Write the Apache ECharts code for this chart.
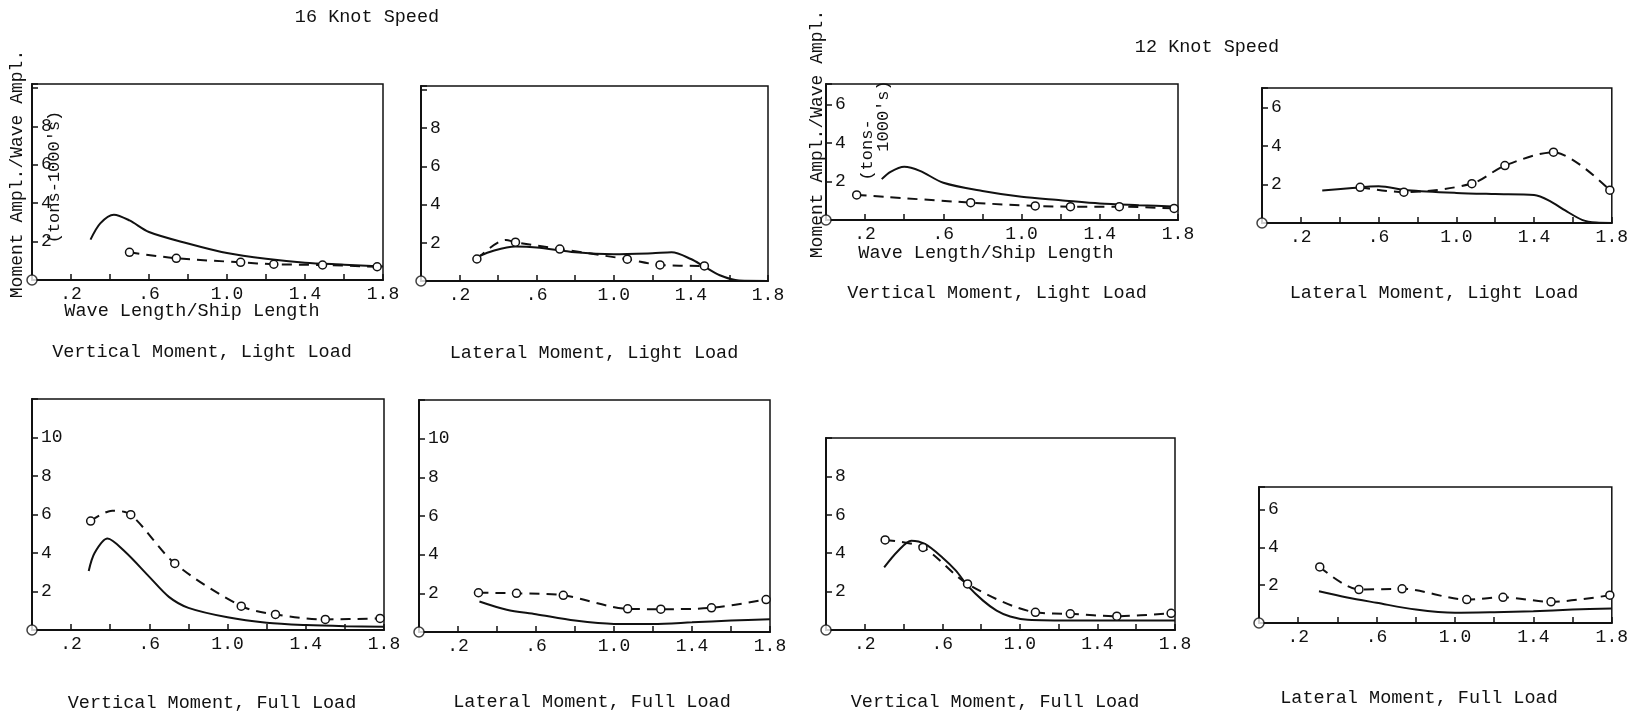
<!DOCTYPE html>
<html><head><meta charset="utf-8">
<script src="https://cdn.jsdelivr.net/npm/echarts@6/dist/echarts.min.js"></script>
<style>html,body{margin:0;padding:0;background:#fff}#c{width:1631px;height:714px}</style>
</head><body><div id="c"></div>
<script>
// ---- tick labels ----
const xTickValues = [0.2, 0.6, 1.0, 1.4, 1.8];
const xTickLabels = ['.2', '.6', '1.0', '1.4', '1.8'];
const origin = [[0, 0]];

// ---- 16 knot speed ----
const v16LightSolid = [[0.30,2.1],[0.35,2.95],[0.42,3.4],[0.50,3.1],[0.60,2.5],[0.80,1.9],[1.00,1.4],[1.20,1.1],[1.40,0.9],[1.60,0.8],[1.80,0.7]];
const v16LightCircles = [[0.50,1.44],[0.74,1.13],[1.07,0.92],[1.24,0.82],[1.49,0.78],[1.77,0.69]];
const v16LightDashExtra = [];

const l16LightSolid = [[0.29,1.26],[0.38,1.6],[0.49,1.8],[0.60,1.75],[0.80,1.5],[1.00,1.4],[1.20,1.45],[1.30,1.5],[1.40,1.15],[1.47,0.75],[1.55,0.3],[1.65,0.02],[1.80,0.0]];
const l16LightCircles = [[0.29,1.15],[0.49,2.03],[0.72,1.67],[1.07,1.14],[1.24,0.84],[1.47,0.79]];
const l16LightDashExtra = [[0.44,2.15]];

const v16FullSolid = [[0.29,3.07],[0.32,4.0],[0.386,4.75],[0.476,4.06],[0.60,2.76],[0.70,1.72],[0.80,1.15],[1.00,0.66],[1.20,0.38],[1.40,0.26],[1.60,0.2],[1.80,0.17]];
const v16FullCircles = [[0.30,5.66],[0.505,5.99],[0.73,3.46],[1.07,1.24],[1.245,0.81],[1.50,0.55],[1.78,0.6]];
const v16FullDashExtra = [[0.41,6.2]];

const l16FullSolid = [[0.31,1.58],[0.45,1.15],[0.60,0.92],[0.80,0.59],[1.00,0.42],[1.20,0.42],[1.40,0.5],[1.60,0.59],[1.80,0.66]];
const l16FullCircles = [[0.305,2.03],[0.50,2.0],[0.74,1.9],[1.07,1.2],[1.24,1.18],[1.50,1.25],[1.78,1.68]];
const l16FullDashExtra = [];

// ---- 12 knot speed ----
const v12LightSolid = [[0.285,2.12],[0.33,2.5],[0.40,2.76],[0.48,2.55],[0.60,1.93],[0.80,1.5],[1.00,1.2],[1.20,1.03],[1.40,0.86],[1.60,0.77],[1.80,0.69]];
const v12LightCircles = [[0.157,1.3],[0.74,0.9],[1.07,0.73],[1.25,0.69],[1.50,0.69],[1.78,0.6]];
const v12LightDashExtra = [];

const l12LightSolid = [[0.31,1.68],[0.45,1.8],[0.60,1.9],[0.75,1.7],[1.00,1.56],[1.20,1.5],[1.40,1.45],[1.48,1.15],[1.56,0.65],[1.65,0.15],[1.72,0.02],[1.80,0.0]];
const l12LightCircles = [[0.505,1.85],[0.73,1.6],[1.08,2.04],[1.25,2.98],[1.50,3.67],[1.79,1.7]];
const l12LightDashExtra = [];

const v12FullSolid = [[0.30,3.26],[0.37,4.1],[0.44,4.65],[0.51,4.48],[0.60,3.78],[0.67,3.09],[0.73,2.31],[0.81,1.53],[0.88,1.01],[0.95,0.70],[1.04,0.53],[1.30,0.49],[1.80,0.49]];
const v12FullCircles = [[0.305,4.69],[0.50,4.3],[0.73,2.4],[1.08,0.92],[1.26,0.84],[1.50,0.72],[1.78,0.87]];
const v12FullDashExtra = [];

const l12FullSolid = [[0.306,1.68],[0.45,1.35],[0.60,1.07],[0.80,0.71],[1.00,0.54],[1.20,0.57],[1.40,0.62],[1.60,0.71],[1.80,0.77]];
const l12FullCircles = [[0.31,2.97],[0.51,1.77],[0.73,1.81],[1.06,1.24],[1.245,1.36],[1.49,1.12],[1.79,1.47]];
const l12FullDashExtra = [];

const yMaxes = [10.2, 10.2, 7.05, 7, 12, 12, 10, 7.2];
const yLabelMax = [8, 8, 6, 6, 10, 10, 8, 6];

// ---- layout ----
const grids = [
  {left:32, top:84, width:351, height:196},
  {left:421, top:86, width:347, height:195},
  {left:826, top:84, width:352, height:136},
  {left:1262, top:88, width:350, height:135},
  {left:32, top:399, width:352, height:231},
  {left:419, top:400, width:351, height:232},
  {left:826, top:438, width:349, height:192},
  {left:1259, top:487, width:353, height:136}
];
const panels = [
  [v16LightSolid, v16LightCircles, v16LightDashExtra],
  [l16LightSolid, l16LightCircles, l16LightDashExtra],
  [v12LightSolid, v12LightCircles, v12LightDashExtra],
  [l12LightSolid, l12LightCircles, l12LightDashExtra],
  [v16FullSolid, v16FullCircles, v16FullDashExtra],
  [l16FullSolid, l16FullCircles, l16FullDashExtra],
  [v12FullSolid, v12FullCircles, v12FullDashExtra],
  [l12FullSolid, l12FullCircles, l12FullDashExtra]
];

const FONT = '"Liberation Mono", "DejaVu Sans Mono", monospace';
const INK = '#111';
const circleStyle = {color:'#fff', borderColor:INK, borderWidth:1.5};

const xAxes = [], yAxes = [], series = [];
grids.forEach((g, i) => {
  xAxes.push({
    type:'value', gridIndex:i, min:0, max:1.8, interval:0.2,
    axisLine:{show:true, onZero:false, lineStyle:{color:INK, width:2}},
    axisTick:{show:true, inside:true, length:6, lineStyle:{color:INK, width:1.5}},
    splitLine:{show:false},
    axisLabel:{
      show:true, margin:5, color:INK, fontFamily:FONT, fontSize:18, hideOverlap:false,
      showMinLabel:true, showMaxLabel:true,
      formatter: v => { const k = xTickValues.findIndex(t => Math.abs(t - v) < 1e-6); return k >= 0 ? xTickLabels[k] : ''; }
    }
  });
  const lm = yLabelMax[i];
  yAxes.push({
    type:'value', gridIndex:i, min:0, max:yMaxes[i], interval:2,
    axisLine:{show:true, onZero:false, lineStyle:{color:INK, width:2}},
    axisTick:{show:true, inside:true, length:6, lineStyle:{color:INK, width:1.5}},
    splitLine:{show:false},
    axisLabel:{
      show:true, inside:true, margin:9, color:INK, fontFamily:FONT, fontSize:18,
      formatter: v => (v > 0 && v <= lm + 1e-6) ? String(Math.round(v)) : ''
    }
  });
  const [solid, circles, extra] = panels[i];
  series.push({
    type:'line', xAxisIndex:i, yAxisIndex:i, data:solid, smooth:0.3,
    showSymbol:false, symbol:'none', lineStyle:{color:INK, width:2}, z:3
  });
  const dashData = circles.map(p => ({value:p}))
    .concat(extra.map(p => ({value:p, symbol:'none'})))
    .sort((a, b) => a.value[0] - b.value[0]);
  series.push({
    type:'line', xAxisIndex:i, yAxisIndex:i, data:dashData, smooth:0.3,
    symbol:'circle', symbolSize:8, showSymbol:true, itemStyle:circleStyle,
    lineStyle:{color:INK, width:2, type:[10,7]}, z:4
  });
  series.push({
    type:'scatter', xAxisIndex:i, yAxisIndex:i, data:origin, clip:false,
    symbol:'circle', symbolSize:10, itemStyle:circleStyle, z:5
  });
});

function txt(text, x, y, size, rot) {
  return {
    type:'text', x:x, y:y, rotation:rot || 0, z:10,
    style:{text:text, font:size + 'px ' + FONT, fill:INK,
      align:'center', verticalAlign:'middle', textAlign:'center', textVerticalAlign:'middle'}
  };
}
const R = Math.PI / 2;
const graphics = [
  txt('16 Knot Speed', 367, 17, 18.5),
  txt('12 Knot Speed', 1207, 47, 18.5),
  txt('Moment Ampl./Wave Ampl.', 17.5, 174, 18, R),
  txt("(tons-1000's)", 54.5, 177, 17, R),
  txt('Moment Ampl./Wave Ampl.', 817, 134, 18, R),
  txt('(tons-', 867, 150, 17, R),
  txt("1000's)", 883, 116, 17, R),
  txt('Wave Length/Ship Length', 192, 311, 18.5),
  txt('Wave Length/Ship Length', 986, 253, 18.5),
  txt('Vertical Moment, Light Load', 202, 352, 18.5),
  txt('Lateral Moment, Light Load', 594, 353, 18.5),
  txt('Vertical Moment, Light Load', 997, 293, 18.5),
  txt('Lateral Moment, Light Load', 1434, 293, 18.5),
  txt('Vertical Moment, Full Load', 212, 703, 18.5),
  txt('Lateral Moment, Full Load', 592, 702, 18.5),
  txt('Vertical Moment, Full Load', 995, 702, 18.5),
  txt('Lateral Moment, Full Load', 1419, 698, 18.5)
];

const chart = echarts.init(document.getElementById('c'), null, {renderer:'canvas'});
chart.setOption({
  animation:false,
  backgroundColor:'#fff',
  grid: grids.map(g => Object.assign({show:true, borderColor:INK, borderWidth:1.5, containLabel:false}, g)),
  xAxis: xAxes,
  yAxis: yAxes,
  series: series,
  graphic: graphics
});
</script>
</body></html>
